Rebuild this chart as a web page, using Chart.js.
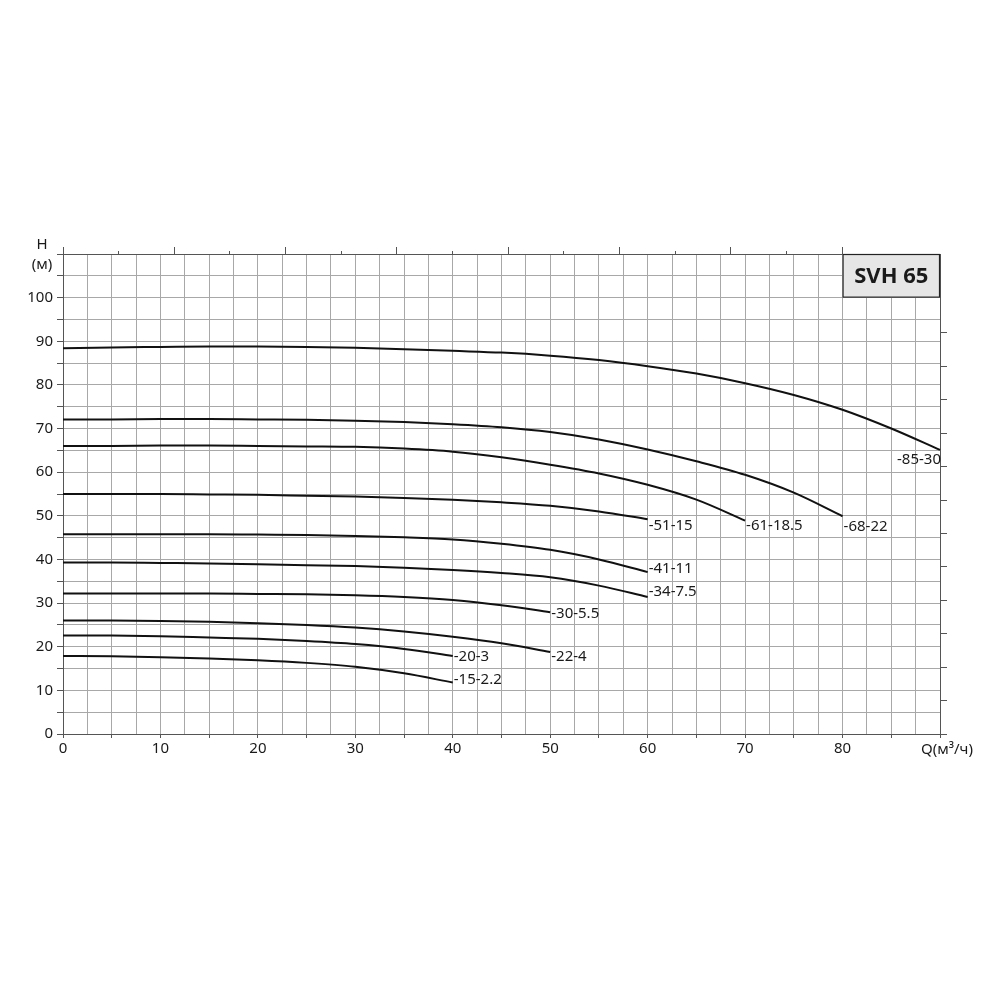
<!DOCTYPE html>
<html lang="ru">
<head>
<meta charset="UTF-8">
<title>SVH 65</title>
<script src="https://cdn.jsdelivr.net/npm/chart.js"></script>
<style>
    body { margin: 0; background: #fff; }
    .wrap { width: 1000px; height: 1000px; }
</style>
</head>
<body>
<div class="wrap"><canvas id="pumpChart" width="1000" height="1000"></canvas></div>
<script>
// flow points, m3/h (each curve uses the first N of them)
const flowQ = [0, 5, 10, 15, 20, 25, 30, 35, 40, 45, 50, 55, 60, 65, 70, 75, 80, 85, 90];

// curve names as printed at the end of each curve
const curveNames = ['-85-30', '-68-22', '-61-18.5', '-51-15', '-41-11', '-34-7.5', '-30-5.5', '-22-4', '-20-3', '-15-2.2'];

// head values, m
const head85 = [88.4, 88.6, 88.7, 88.8, 88.8, 88.7, 88.5, 88.2, 87.8, 87.4, 86.7, 85.7, 84.3, 82.6, 80.4, 77.7, 74.3, 70.0, 65.1];
const head68 = [72.1, 72.1, 72.2, 72.2, 72.1, 72.0, 71.8, 71.5, 71.0, 70.3, 69.2, 67.5, 65.2, 62.5, 59.4, 55.3, 49.9];
const head61 = [66.0, 66.0, 66.1, 66.1, 66.0, 65.9, 65.8, 65.4, 64.7, 63.4, 61.7, 59.7, 57.1, 53.7, 48.9];
const head51 = [55.0, 55.0, 55.0, 54.9, 54.8, 54.6, 54.4, 54.1, 53.7, 53.1, 52.3, 51.0, 49.2];
const head41 = [45.8, 45.8, 45.8, 45.8, 45.7, 45.6, 45.4, 45.1, 44.6, 43.6, 42.2, 40.0, 37.1];
const head34 = [39.3, 39.3, 39.2, 39.1, 38.9, 38.7, 38.5, 38.1, 37.6, 36.9, 35.9, 34.0, 31.4];
const head30 = [32.2, 32.2, 32.2, 32.2, 32.1, 32.0, 31.8, 31.4, 30.7, 29.5, 27.9];
const head22 = [26.0, 26.0, 25.9, 25.7, 25.4, 25.0, 24.4, 23.5, 22.3, 20.8, 18.8];
const head20 = [22.6, 22.55, 22.4, 22.1, 21.8, 21.3, 20.6, 19.5, 17.9];
const head15 = [17.9, 17.8, 17.6, 17.3, 16.9, 16.3, 15.4, 13.9, 11.8];

const allHeads = [head85, head68, head61, head51, head41, head34, head30, head22, head20, head15];

const FONT = "'Noto Sans', 'Open Sans', sans-serif";
const GRID = '#a8a8a8';
const AXIS = '#555';

// label placement next to curve ends (px)
const labelShift = {
    '-85-30': { dy: 10, right: true },
    '-68-22': { dy: 10 }, '-61-18.5': { dy: 5 }, '-51-15': { dy: 6 },
    '-41-11': { dy: -3 }, '-34-7.5': { dy: -5 }, '-30-5.5': { dy: 1 },
    '-22-4': { dy: 5 }, '-20-3': { dy: 1 }, '-15-2.2': { dy: -3 }
};

const datasets = allHeads.map((h, i) => ({
    label: curveNames[i],
    data: h.map((v, k) => ({ x: flowQ[k], y: v })),
    borderColor: '#111',
    borderWidth: 2,
    pointRadius: 0,
    fill: false,
    cubicInterpolationMode: 'monotone',
    clip: false
}));

// curve name at end of each line
const endLabels = {
    id: 'endLabels',
    afterDatasetsDraw(chart) {
        const ctx = chart.ctx;
        ctx.save();
        ctx.font = '15px ' + FONT;
        ctx.fillStyle = '#1a1a1a';
        ctx.textBaseline = 'middle';
        chart.data.datasets.forEach((ds, i) => {
            const pts = chart.getDatasetMeta(i).data;
            const p = pts[pts.length - 1];
            const s = labelShift[ds.label] || { dy: 0 };
            ctx.textAlign = s.right ? 'right' : 'left';
            ctx.fillText(ds.label, p.x + 1, p.y + s.dy);
        });
        ctx.restore();
    }
};

// name box + axis captions
const captions = {
    id: 'captions',
    afterDraw(chart) {
        const ctx = chart.ctx;
        const x = chart.scales.x, y = chart.scales.y;
        ctx.save();
        const bx = x.getPixelForValue(80), bx2 = x.getPixelForValue(90);
        const by = y.getPixelForValue(110), by2 = y.getPixelForValue(100);
        ctx.fillStyle = '#e6e6e6';
        ctx.fillRect(bx, by, bx2 - bx, by2 - by);
        ctx.strokeStyle = '#222';
        ctx.lineWidth = 1.2;
        ctx.strokeRect(bx + 0.5, by + 0.5, bx2 - bx - 1, by2 - by - 1);
        ctx.fillStyle = '#1a1a1a';
        ctx.font = 'bold 22px ' + FONT;
        ctx.textAlign = 'center';
        ctx.textBaseline = 'middle';
        ctx.fillText('SVH 65', (bx + bx2) / 2, (by + by2) / 2 + 1);

        ctx.font = '15px ' + FONT;
        ctx.fillText('H', 42, 245);
        ctx.fillText('(м)', 42, 265);
        ctx.textAlign = 'left';
        ctx.fillText('Q(м³/ч)', 921, 750);
        ctx.restore();
    }
};

new Chart(document.getElementById('pumpChart'), {
    type: 'line',
    data: { datasets: datasets },
    plugins: [endLabels, captions],
    options: {
        responsive: false,
        animation: false,
        layout: { padding: 0 },
        plugins: { legend: { display: false }, tooltip: { enabled: false } },
        scales: {
            x: {
                type: 'linear', position: 'bottom', min: 0, max: 90,
                afterFit: s => { s.height = 266; },
                border: { color: AXIS },
                grid: {
                    color: GRID, tickLength: 4,
                    tickColor: c => (c.tick && c.tick.value % 5 === 0) ? AXIS : 'rgba(0,0,0,0)'
                },
                ticks: {
                    stepSize: 2.5, autoSkip: false, maxRotation: 0, padding: 2,
                    color: '#1a1a1a', font: { family: FONT, size: 15 },
                    callback: v => (v % 10 === 0 && v < 90 ? v : '')
                }
            },
            x2: {
                type: 'linear', position: 'top', min: 0, max: 394,
                afterFit: s => { s.height = 254; },
                afterBuildTicks: s => { s.ticks = s.ticks.filter(t => t.value <= 350); },
                border: { color: AXIS },
                grid: {
                    drawOnChartArea: false, tickLength: 7, tickColor: AXIS,
                    tickBorderDash: c => (c.tick && c.tick.value % 50 === 0) ? [] : [0, 4, 3, 0]
                },
                ticks: { stepSize: 25, display: false }
            },
            y: {
                type: 'linear', position: 'left', min: 0, max: 110,
                afterFit: s => { s.width = 63; },
                border: { color: AXIS },
                grid: { color: GRID, tickLength: 6, tickColor: AXIS },
                ticks: {
                    stepSize: 5, autoSkip: false, padding: 4,
                    color: '#1a1a1a', font: { family: FONT, size: 15 },
                    callback: v => (v % 10 === 0 && v < 110 ? v : '')
                }
            },
            y2: {
                type: 'linear', position: 'right', min: 0, max: 359,
                afterFit: s => { s.width = 60; },
                afterBuildTicks: s => { s.ticks = s.ticks.filter(t => t.value <= 300); },
                border: { color: AXIS },
                grid: { drawOnChartArea: false, tickLength: 7, tickColor: AXIS },
                ticks: { stepSize: 25, display: false }
            }
        }
    }
});
</script>
</body>
</html>
